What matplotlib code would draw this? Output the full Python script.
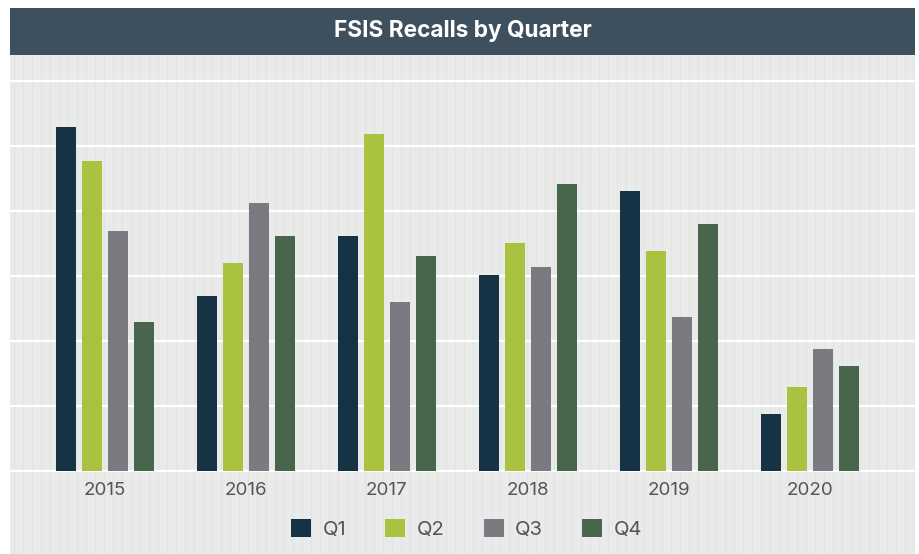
import numpy as np
import matplotlib
matplotlib.use("Agg")
import matplotlib.pyplot as plt
from matplotlib.patches import Patch, Rectangle

plt.rcParams['font.family'] = ['Inter', 'DejaVu Sans']

years = ['2015', '2016', '2017', '2018', '2019', '2020']
quarters = ['Q1', 'Q2', 'Q3', 'Q4']
q1 = [52.9, 26.9, 36.2, 30.2, 43.1, 8.8]
q2 = [47.7, 32.0, 51.8, 35.1, 33.8, 12.9]
q3 = [36.9, 41.2, 26.0, 31.4, 23.7, 18.8]
q4 = [22.9, 36.2, 33.1, 44.2, 38.0, 16.2]
colors = ['#163345', '#a9c23f', '#7a7b80', '#47664c']

W, H = 920, 554
fig = plt.figure(figsize=(W / 100, H / 100), dpi=100)

# panel background with faint vertical stripes
bg = fig.add_axes([10 / W, 0, 905 / W, (H - 55) / H])
bg.set_xlim(0, 905)
bg.set_ylim(0, 1)
bg.set_axis_off()
bg.add_patch(Rectangle((0, 0), 905, 1, color='#eaeaea', zorder=-1))
for sx in np.arange(4, 905, 9):
    bg.axvline(sx, color='#dfe6de', lw=0.9, zorder=0)

# title bar
tb = fig.add_axes([10 / W, (H - 55) / H, 905 / W, 47 / H])
tb.set_facecolor('#3e4f5e')
tb.set_xticks([])
tb.set_yticks([])
for s in tb.spines.values():
    s.set_visible(False)
tb.text(0.5, 0.5, 'FSIS Recalls by Quarter', color='white', fontsize=16.3,
        fontweight='bold', ha='center', va='center', transform=tb.transAxes)

ax = fig.add_axes([10 / W, (H - 471) / H, 904 / W, (471 - 55) / H])
ax.patch.set_alpha(0)
x = np.arange(len(years))
bw = 0.142
step = 0.184
for i, (vals, c) in enumerate(zip([q1, q2, q3, q4], colors)):
    ax.bar(x + (i - 1.5) * step, vals, width=bw, color=c, zorder=3)

for g in range(0, 61, 10):
    ax.axhline(g, color='white', lw=1.6, zorder=2, clip_on=False)

ax.set_xlim(-0.674, 5.74)
ax.set_ylim(0, 64)
ax.set_yticks([])
ax.set_xticks(x)
ax.set_xticklabels(years, fontsize=13.5, color='#555555')
ax.tick_params(axis='x', length=0, pad=8)
for s in ax.spines.values():
    s.set_visible(False)

handles = [Patch(facecolor=c, label=q) for c, q in zip(colors, quarters)]
fig.legend(handles=handles, loc='center', bbox_to_anchor=(0.507, 0.045), ncol=4,
           frameon=False, fontsize=14.5, handlelength=1.0, handleheight=1.0,
           handletextpad=0.55, columnspacing=1.95, labelcolor='#555555')

fig.savefig('out.png', dpi=100)
